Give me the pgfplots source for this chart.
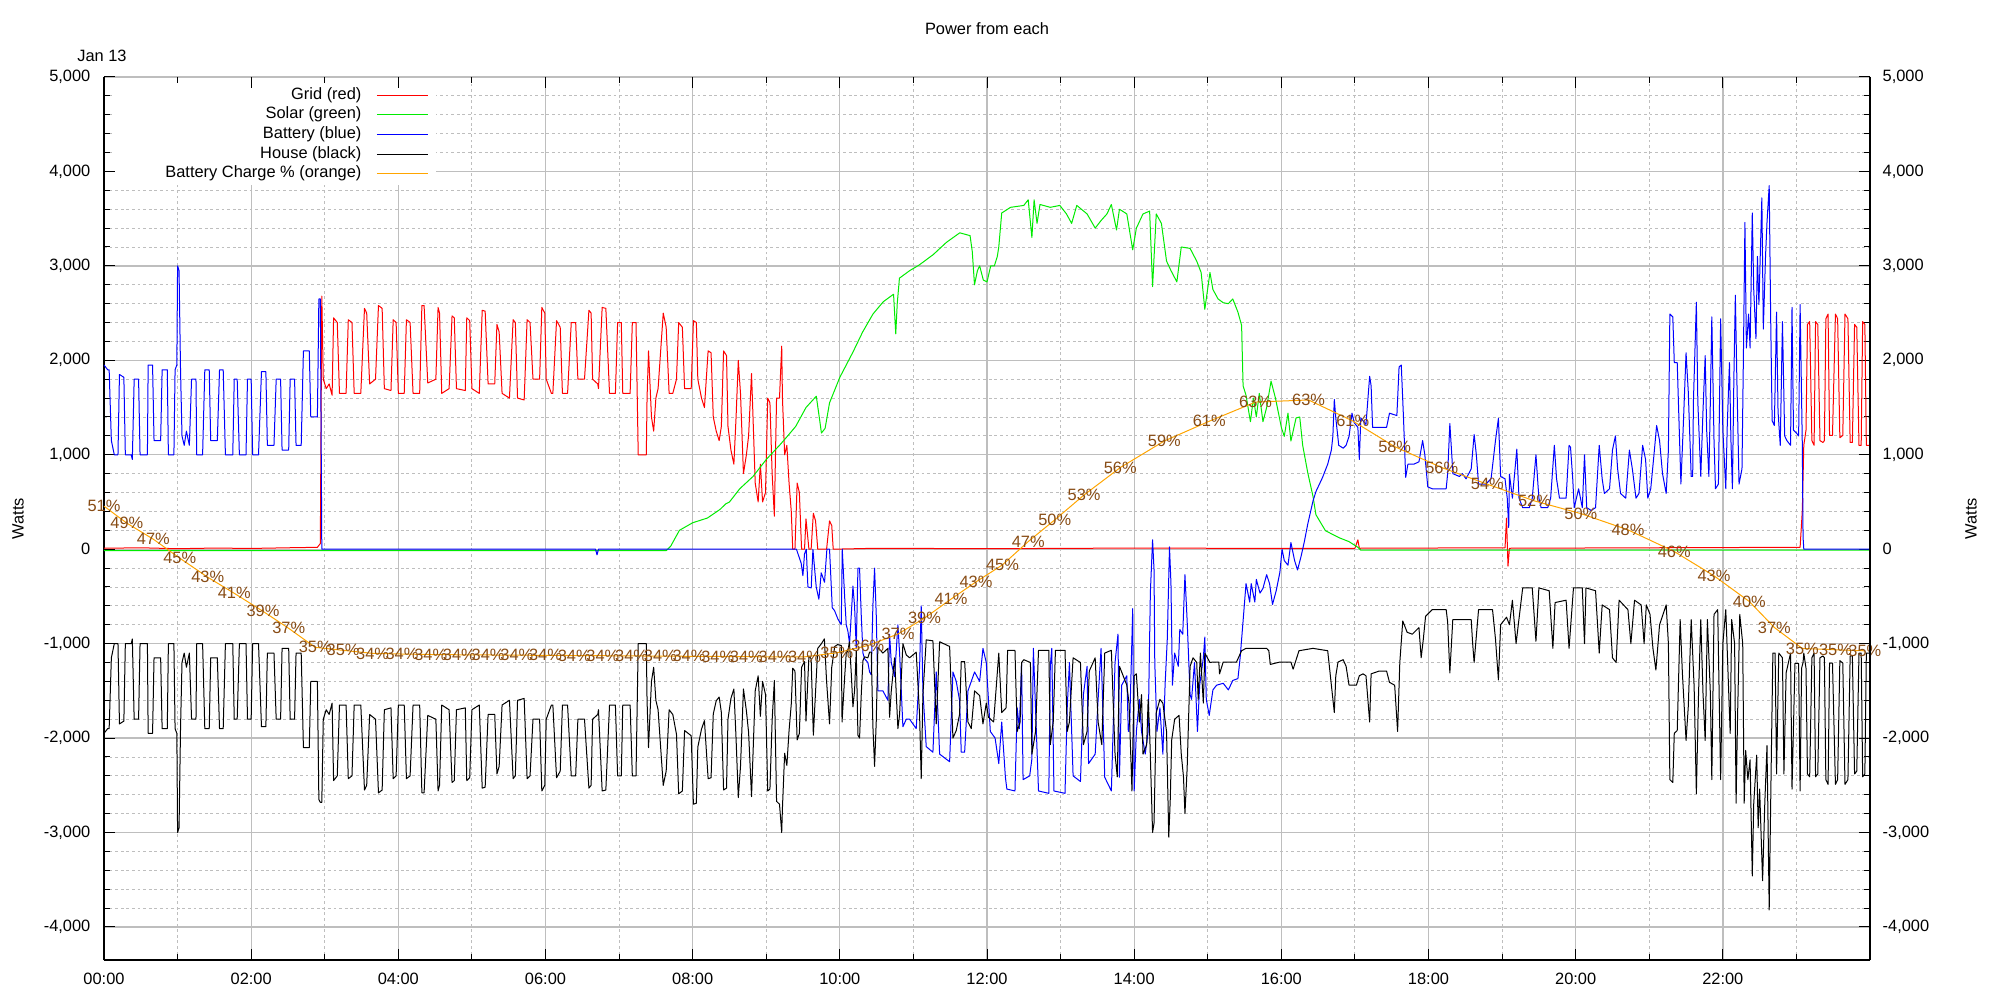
\documentclass[border=0pt]{standalone}
\usepackage{fontspec}
\setmainfont{Liberation Sans}
\usepackage{pgfplots}
\pgfplotsset{compat=1.18}
\definecolor{gridgray}{RGB}{190,190,190}
\definecolor{solargreen}{RGB}{0,235,0}
\definecolor{chargeorange}{RGB}{255,165,0}
\definecolor{labelbrown}{RGB}{135,75,20}
\newcommand\ff{\fontsize{8.2}{9.8}\selectfont}
\begin{document}
\begin{tikzpicture}
\begin{axis}[
  scale only axis, width=883pt, height=441.5pt,
  xmin=0, xmax=24, ymin=-4350, ymax=5000,
  axis x line*=bottom, axis y line*=box,
  tick align=inside,
  xtick={0,2,...,24},
  xticklabels={00:00,02:00,04:00,06:00,08:00,10:00,12:00,14:00,16:00,18:00,20:00,22:00,},
  minor x tick num=1,
  ytick={-4000,-3000,...,5000},
  yticklabels={{-4,000},{-3,000},{-2,000},{-1,000},0,{1,000},{2,000},{3,000},{4,000},{5,000}},
  minor y tick num=4,
  yticklabel pos=left,
  major tick length=5.5pt, minor tick length=3pt,
  tick style={black, line width=0.5pt},
  axis line style={black, line width=0.7pt},
  grid=both,
  major grid style={color=gridgray, line width=0.65pt},
  minor grid style={color=gridgray, line width=0.45pt, dash pattern=on 1.4pt off 1.4pt},
  tick label style={font=\ff},
  xticklabel style={yshift=-3pt},
  yticklabel style={xshift=-3.3pt},
  ylabel={Watts},
  ylabel style={font=\ff, at={(axis description cs:-0.0487,0.5)}, anchor=center, rotate=0},
  title={Power from each},
  title style={font=\ff, at={(axis description cs:0.5,1)}, anchor=center, yshift=18pt},
  legend cell align=right,
  legend plot pos=right,
  legend image code/.code={\draw[#1] (0pt,0pt) -- (25.5pt,0pt);},
  legend style={at={(rel axis cs:0,1)}, anchor=north west, xshift=5.5pt, yshift=-3.5pt,
    draw=none, fill=white, inner xsep=4pt, inner ysep=1pt, row sep=0.85pt, column sep=7pt,
    nodes={inner sep=0.5pt, text depth=0.2em}, font=\ff},
  every node near coord/.append style={anchor=center, inner sep=0pt, font=\ff, text=labelbrown},
]
% Grid (red)
\addplot[red, line width=0.5pt, line join=round] coordinates {
(0,10)(0.5,15)(1.0,5)(1.5,12)(2.0,8)(2.5,15)(2.9,20)(2.94,60)(2.96,2680)(2.98,1800)(3.02,1700)(3.06,1750)(3.1,1630)(3.12,2450)(3.17,2400)(3.2,1650)(3.29,1650)(3.32,2430)(3.37,2400)(3.4,1650)(3.49,1650)(3.54,2550)(3.57,2500)(3.61,1750)(3.69,1800)(3.73,2580)(3.78,2550)(3.81,1700)(3.9,1680)(3.93,2430)(3.97,2400)(4.0,1650)(4.08,1650)(4.11,2430)(4.16,2400)(4.2,1650)(4.29,1650)(4.32,2580)(4.35,2580)(4.4,1760)(4.51,1800)(4.54,2560)(4.56,2500)(4.59,1650)(4.69,1700)(4.73,2470)(4.76,2450)(4.79,1700)(4.91,1680)(4.93,2450)(4.97,2420)(5.0,1700)(5.1,1650)(5.14,2530)(5.18,2520)(5.22,1750)(5.31,1750)(5.34,2380)(5.37,2300)(5.41,1650)(5.51,1600)(5.56,2430)(5.59,2400)(5.62,1600)(5.71,1580)(5.75,2430)(5.79,2400)(5.83,1800)(5.92,1800)(5.95,2560)(5.99,2500)(6.01,1800)(6.08,1650)(6.1,1650)(6.15,2420)(6.2,2350)(6.23,1650)(6.3,1650)(6.35,2400)(6.41,2400)(6.44,1800)(6.53,1800)(6.59,2530)(6.62,2500)(6.64,1800)(6.71,1750)(6.72,1700)(6.77,2560)(6.82,2550)(6.87,1650)(6.95,1650)(6.98,2400)(7.03,2400)(7.05,1650)(7.15,1650)(7.18,2400)(7.23,2400)(7.26,1000)(7.37,1000)(7.38,1600)(7.4,2100)(7.44,1400)(7.47,1250)(7.5,1600)(7.53,1700)(7.6,2500)(7.64,2350)(7.68,1650)(7.73,1650)(7.78,1800)(7.81,2400)(7.86,2350)(7.89,1700)(7.98,1700)(8.01,2420)(8.05,2400)(8.07,1800)(8.12,1600)(8.16,1500)(8.21,2100)(8.25,2080)(8.28,1400)(8.32,1250)(8.36,1150)(8.39,1300)(8.42,2100)(8.46,2050)(8.48,1300)(8.52,1050)(8.56,900)(8.59,1400)(8.62,2000)(8.65,1650)(8.69,800)(8.73,1000)(8.76,1200)(8.8,1860)(8.82,1400)(8.85,700)(8.89,500)(8.92,900)(8.95,500)(8.99,600)(9.02,1600)(9.05,1550)(9.08,800)(9.11,350)(9.14,1600)(9.18,1600)(9.21,2150)(9.22,1600)(9.25,1000)(9.28,1100)(9.31,700)(9.34,400)(9.36,0)(9.39,0)(9.42,700)(9.45,600)(9.48,0)(9.52,0)(9.54,320)(9.58,0)(9.61,0)(9.64,380)(9.67,300)(9.7,0)(9.82,0)(9.86,300)(9.89,250)(9.91,0)(10.5,10)(12,5)(14,12)(16,8)(17.0,10)(17.04,100)(17.06,10)(19.04,15)(19.06,330)(19.08,-180)(19.1,10)(21,15)(23.05,20)(23.08,410)(23.1,1100)(23.13,1260)(23.15,2380)(23.18,2410)(23.21,1150)(23.24,1100)(23.26,2410)(23.29,2380)(23.32,1150)(23.36,1130)(23.38,1150)(23.4,2440)(23.43,2490)(23.45,1205)(23.49,1205)(23.53,2490)(23.56,2440)(23.59,1180)(23.63,1205)(23.66,2490)(23.7,2440)(23.73,1130)(23.76,1130)(23.79,2380)(23.82,2350)(23.85,1100)(23.88,1100)(23.9,2410)(23.93,2380)(23.95,1100)(24,1100)
};
\addlegendentry{\makebox[118.5pt][r]{Grid (red)}}
% Solar (green)
\addplot[solargreen, line width=0.5pt, line join=round] coordinates {
(0,-15)(7.64,-15)(7.7,30)(7.82,200)(8.0,280)(8.2,330)(8.37,420)(8.45,480)(8.5,500)(8.64,640)(8.82,770)(9.0,950)(9.18,1100)(9.27,1180)(9.4,1300)(9.54,1500)(9.68,1620)(9.72,1400)(9.75,1230)(9.8,1280)(9.86,1550)(10.0,1820)(10.18,2090)(10.31,2300)(10.45,2490)(10.59,2620)(10.73,2700)(10.76,2280)(10.78,2600)(10.81,2870)(10.95,2950)(11.08,3010)(11.27,3120)(11.45,3250)(11.63,3350)(11.77,3320)(11.8,3150)(11.83,2800)(11.87,2950)(11.9,3000)(11.95,2850)(12.0,2830)(12.05,3000)(12.1,3000)(12.14,3100)(12.16,3200)(12.2,3560)(12.32,3620)(12.5,3640)(12.56,3700)(12.61,3300)(12.64,3700)(12.68,3450)(12.72,3650)(12.86,3620)(12.99,3640)(13.08,3550)(13.15,3450)(13.22,3640)(13.36,3550)(13.47,3400)(13.55,3480)(13.63,3550)(13.69,3650)(13.76,3380)(13.8,3600)(13.9,3550)(13.98,3170)(14.03,3400)(14.12,3550)(14.21,3580)(14.25,2780)(14.3,3550)(14.37,3450)(14.44,3050)(14.5,2950)(14.58,2830)(14.64,3200)(14.76,3185)(14.85,3050)(14.91,2930)(14.96,2540)(15.03,2930)(15.07,2750)(15.14,2650)(15.21,2610)(15.28,2600)(15.34,2650)(15.41,2510)(15.46,2370)(15.48,1730)(15.52,1630)(15.58,1350)(15.62,1600)(15.66,1400)(15.7,1650)(15.75,1350)(15.8,1500)(15.86,1780)(15.92,1600)(16.0,1290)(16.04,1195)(16.09,1440)(16.13,1145)(16.2,1390)(16.25,1400)(16.29,1100)(16.36,805)(16.43,560)(16.47,365)(16.6,195)(16.79,120)(16.92,80)(17.04,20)(17.08,-10)(24,-10)
};
\addlegendentry{\makebox[118.5pt][r]{Solar (green)}}
% Battery (blue)
\addplot[blue, line width=0.5pt, line join=round] coordinates {
(0,1950)(0.05,1900)(0.07,1900)(0.1,1150)(0.14,1000)(0.19,1000)(0.21,1850)(0.27,1820)(0.29,1000)(0.37,1000)(0.385,950)(0.41,1800)(0.47,1800)(0.49,1000)(0.59,1000)(0.60,1950)(0.66,1950)(0.68,1150)(0.77,1150)(0.79,1900)(0.86,1900)(0.875,1000)(0.95,1000)(0.966,1900)(0.99,1950)(1.0,3000)(1.02,2950)(1.04,1900)(1.06,1200)(1.09,1100)(1.12,1250)(1.16,1100)(1.19,1800)(1.25,1800)(1.26,1000)(1.34,1000)(1.37,1900)(1.43,1900)(1.45,1150)(1.54,1150)(1.57,1900)(1.62,1900)(1.65,1000)(1.75,1000)(1.77,1800)(1.81,1800)(1.84,1000)(1.93,1000)(1.95,1800)(2.0,1800)(2.02,1000)(2.1,1000)(2.14,1880)(2.2,1880)(2.22,1100)(2.31,1100)(2.34,1800)(2.4,1800)(2.42,1050)(2.51,1050)(2.53,1800)(2.59,1800)(2.61,1100)(2.68,1100)(2.71,2100)(2.79,2100)(2.81,1400)(2.9,1400)(2.92,2650)(2.94,2650)(2.96,0)
(3.5,0)(6.68,0)(6.7,-60)(6.72,0)(9.41,0)
(9.475,-150)(9.498,-280)(9.52,-50)(9.544,0)(9.566,-400)(9.611,-410)(9.634,0)(9.679,-400)(9.715,-530)(9.747,-250)(9.792,-350)(9.824,0)(9.86,0)(9.897,-620)(9.928,-650)(9.974,-740)(10.019,-800)(10.033,0)(10.065,-500)(10.087,-800)(10.11,-870)(10.132,-1000)(10.155,-700)(10.178,-390)(10.2,-600)(10.223,-1050)(10.246,-200)(10.268,-200)(10.291,-700)(10.314,-1100)(10.336,-1160)(10.381,-1200)(10.404,-1300)(10.427,-1330)(10.449,-600)(10.472,-200)(10.495,-700)(10.517,-1500)(10.585,-1500)(10.653,-1600)(10.676,-900)(10.699,-1200)(10.744,-1350)(10.789,-800)(10.812,-1100)(10.857,-1880)(10.903,-1800)(10.948,-1800)(10.993,-1850)(11.038,-1900)(11.084,-1250)(11.106,-600)(11.129,-1500)(11.174,-2090)(11.265,-2150)(11.31,-1300)(11.356,-2170)(11.492,-2250)(11.537,-1300)(11.582,-1400)(11.627,-1600)(11.65,-2150)(11.696,-2150)(11.741,-1500)(11.786,-1400)(11.831,-1300)(11.9,-1400)(11.945,-1050)(11.99,-1200)
(12.045,-1930)(12.11,-2000)(12.16,-2270)(12.2,-1830)(12.25,-2415)(12.27,-2540)(12.38,-2560)(12.41,-1680)(12.44,-1900)(12.47,-1200)(12.49,-2440)(12.58,-2400)(12.61,-2220)(12.63,-1050)(12.7,-2560)(12.84,-2585)(12.86,-1240)(12.88,-1050)(12.91,-2560)(13.06,-2585)(13.09,-1680)(13.12,-1200)(13.17,-2400)(13.27,-2460)(13.31,-1540)(13.36,-1240)(13.38,-2270)(13.47,-2170)(13.51,-1590)(13.55,-1050)(13.6,-2415)(13.69,-2560)(13.74,-1200)(13.78,-900)(13.8,-2415)(13.83,-1440)(13.9,-1340)(13.92,-1930)(13.94,-1830)(13.98,-630)(14.0,-2560)(14.03,-1930)(14.07,-1590)(14.1,-1930)(14.15,-2170)(14.19,-1930)(14.22,-460)(14.25,100)(14.27,-220)(14.28,-1200)(14.31,-1930)(14.35,-1680)(14.39,-2170)(14.42,-1440)(14.45,-950)(14.48,25)(14.5,-365)(14.52,-1440)(14.55,-1100)(14.6,-1240)(14.62,-850)(14.66,-900)(14.69,-270)(14.72,-760)(14.76,-1540)(14.78,-1590)(14.82,-1200)(14.86,-1930)(14.89,-1440)(14.94,-1150)(14.96,-930)(14.98,-1590)(15.02,-1760)(15.07,-1490)(15.12,-1440)(15.21,-1420)(15.28,-1490)(15.34,-1390)(15.41,-1370)(15.44,-1150)(15.48,-760)(15.52,-365)(15.57,-560)(15.59,-365)(15.64,-560)(15.66,-320)(15.71,-465)(15.75,-415)(15.8,-270)(15.84,-365)(15.88,-585)(15.93,-440)(15.98,-245)(16.01,0)(16.04,-120)(16.09,-170)(16.13,70)(16.18,-120)(16.22,-220)(16.27,-70)(16.31,70)(16.36,270)(16.43,510)(16.47,610)(16.56,760)(16.63,900)(16.68,1050)(16.7,1195)(16.72,1585)(16.74,1390)(16.78,1100)(16.84,1070)(16.88,1100)(16.92,1195)(16.96,1440)(16.99,1340)(17.04,1290)(17.06,950)(17.08,1390)(17.15,1320)(17.2,1830)(17.22,1730)(17.24,1290)(17.33,1290)(17.43,1290)(17.47,1440)(17.57,1415)(17.6,1930)(17.63,1950)(17.66,1390)(17.69,760)(17.72,900)(17.8,900)(17.87,925)(17.92,1150)(17.95,1000)(17.99,660)
(18.05,640)(18.24,640)(18.26,800)(18.29,1330)(18.32,950)(18.33,800)(18.42,770)(18.46,800)(18.51,745)(18.58,850)(18.62,1215)(18.65,1000)(18.68,690)(18.78,690)(18.85,745)(18.91,1150)(18.95,1385)(18.98,770)(19.04,745)(19.07,540)(19.09,230)(19.1,795)(19.14,540)(19.2,1060)(19.23,540)(19.28,440)(19.37,440)(19.41,540)(19.46,1000)(19.5,540)(19.53,440)(19.62,440)(19.66,540)(19.71,1100)(19.74,745)(19.78,540)(19.87,540)(19.91,1100)(19.93,1080)(19.96,745)(19.98,440)(20.04,640)(20.09,440)(20.12,1000)(20.15,440)(20.21,410)(20.27,440)(20.32,1100)(20.36,745)(20.39,590)(20.46,640)(20.5,1050)(20.54,1200)(20.57,850)(20.61,590)(20.68,540)(20.73,1050)(20.77,850)(20.82,540)(20.86,590)(20.91,1100)(20.95,950)(20.98,540)(21.02,640)(21.07,1050)(21.1,1310)(21.14,1150)(21.18,800)(21.23,590)(21.26,1050)(21.28,2490)(21.32,2460)(21.34,1975)(21.38,1975)(21.43,690)(21.46,1260)(21.5,2080)(21.53,1670)(21.57,770)(21.59,770)(21.6,1560)(21.64,2615)(21.66,1560)(21.7,770)(21.73,1460)(21.76,2050)(21.78,1260)(21.81,770)(21.83,1560)(21.85,2460)(21.88,1150)(21.9,640)(21.94,690)(21.97,2440)(22.0,1260)(22.04,640)(22.06,1310)(22.09,1975)(22.11,1150)(22.13,640)(22.15,1820)(22.17,2690)(22.19,1820)(22.22,690)(22.26,850)(22.28,2080)(22.3,3460)(22.32,2130)(22.35,2490)(22.37,2130)(22.4,3560)(22.42,2740)(22.45,2230)(22.47,3100)(22.49,2590)(22.53,3720)(22.55,2330)(22.58,3100)(22.6,3460)(22.63,3850)(22.65,2440)(22.67,1360)(22.7,1310)(22.73,2510)(22.75,1460)(22.78,1100)(22.81,2410)(22.84,1200)(22.87,1150)(22.92,1100)(22.94,2560)(22.96,1260)(23.0,1230)(23.03,1200)(23.05,2590)(23.08,1100)(23.09,130)(23.1,0)(24,0)
};
\addlegendentry{\makebox[118.5pt][r]{Battery (blue)}}
% House (black)
\addplot[black, line width=0.5pt, line join=round] coordinates {
(0,-1950)(0.05,-1900)(0.07,-1900)(0.1,-1150)(0.14,-1000)(0.19,-1000)(0.21,-1850)(0.27,-1820)(0.29,-1000)(0.37,-1000)(0.385,-950)(0.41,-1800)(0.47,-1800)(0.49,-1000)(0.59,-1000)(0.60,-1950)(0.66,-1950)(0.68,-1150)(0.77,-1150)(0.79,-1900)(0.86,-1900)(0.875,-1000)(0.95,-1000)(0.966,-1900)(0.99,-1950)(1.0,-3000)(1.02,-2950)(1.04,-1900)(1.06,-1200)(1.09,-1100)(1.12,-1250)(1.16,-1100)(1.19,-1800)(1.25,-1800)(1.26,-1000)(1.34,-1000)(1.37,-1900)(1.43,-1900)(1.45,-1150)(1.54,-1150)(1.57,-1900)(1.62,-1900)(1.65,-1000)(1.75,-1000)(1.77,-1800)(1.81,-1800)(1.84,-1000)(1.93,-1000)(1.95,-1800)(2.0,-1800)(2.02,-1000)(2.1,-1000)(2.14,-1880)(2.2,-1880)(2.22,-1100)(2.31,-1100)(2.34,-1800)(2.4,-1800)(2.42,-1050)(2.51,-1050)(2.53,-1800)(2.59,-1800)(2.61,-1100)(2.68,-1100)(2.71,-2100)(2.79,-2100)(2.81,-1400)(2.9,-1400)(2.92,-2650)(2.94,-2680)
(2.96,-2680)(2.98,-1800)(3.02,-1700)(3.06,-1750)(3.1,-1630)(3.12,-2450)(3.17,-2400)(3.2,-1650)(3.29,-1650)(3.32,-2430)(3.37,-2400)(3.4,-1650)(3.49,-1650)(3.54,-2550)(3.57,-2500)(3.61,-1750)(3.69,-1800)(3.73,-2580)(3.78,-2550)(3.81,-1700)(3.9,-1680)(3.93,-2430)(3.97,-2400)(4.0,-1650)(4.08,-1650)(4.11,-2430)(4.16,-2400)(4.2,-1650)(4.29,-1650)(4.32,-2580)(4.35,-2580)(4.4,-1760)(4.51,-1800)(4.54,-2560)(4.56,-2500)(4.59,-1650)(4.69,-1700)(4.73,-2470)(4.76,-2450)(4.79,-1700)(4.91,-1680)(4.93,-2450)(4.97,-2420)(5.0,-1700)(5.1,-1650)(5.14,-2530)(5.18,-2520)(5.22,-1750)(5.31,-1750)(5.34,-2380)(5.37,-2300)(5.41,-1650)(5.51,-1600)(5.56,-2430)(5.59,-2400)(5.62,-1600)(5.71,-1580)(5.75,-2430)(5.79,-2400)(5.83,-1800)(5.92,-1800)(5.95,-2560)(5.99,-2500)(6.01,-1800)(6.08,-1650)(6.1,-1650)(6.15,-2420)(6.2,-2350)(6.23,-1650)(6.3,-1650)(6.35,-2400)(6.41,-2400)(6.44,-1800)(6.53,-1800)(6.59,-2530)(6.62,-2500)(6.64,-1800)(6.71,-1750)(6.72,-1700)(6.77,-2560)(6.82,-2550)(6.87,-1650)(6.95,-1650)(6.98,-2400)(7.03,-2400)(7.05,-1650)(7.15,-1650)(7.18,-2400)(7.23,-2400)(7.26,-1000)(7.37,-1000)(7.38,-1600)(7.4,-2100)(7.44,-1400)(7.47,-1250)(7.5,-1600)(7.53,-1700)(7.6,-2500)
(7.64,-2350)(7.68,-1700)(7.73,-1750)(7.78,-1960)(7.81,-2590)(7.86,-2560)(7.89,-1920)(7.98,-1975)(8.01,-2700)(8.05,-2690)(8.07,-2095)(8.12,-1905)(8.16,-1815)(8.21,-2430)(8.25,-2420)(8.28,-1745)(8.32,-1605)(8.36,-1565)(8.39,-1730)(8.42,-2550)(8.46,-2530)(8.48,-1800)(8.52,-1580)(8.56,-1480)(8.59,-2010)(8.62,-2630)(8.65,-2300)(8.69,-1480)(8.73,-1710)(8.76,-1940)(8.8,-2620)(8.82,-2170)(8.85,-1500)(8.89,-1340)(8.92,-1770)(8.95,-1400)(8.99,-1540)(9.02,-2560)(9.05,-2540)(9.08,-1810)(9.11,-1390)(9.14,-2670)(9.18,-2700)(9.21,-3000)(9.22,-2740)(9.25,-2160)(9.28,-2290)(9.31,-1920)(9.34,-1640)(9.36,-1260)(9.39,-1290)(9.42,-2020)(9.45,-1950)(9.48,-1250)(9.52,-1190)(9.54,-1820)(9.58,-1130)(9.61,-1160)(9.64,-1970)(9.67,-1510)(9.7,-1050)(9.75,-1000)(9.79,-950)(9.82,-1400)(9.86,-1850)(9.89,-1250)(9.93,-1030)(9.97,-1010)(10.02,-1020)(10.03,-1830)(10.065,-1360)(10.087,-1100)(10.11,-1080)(10.13,-980)(10.155,-1310)(10.178,-1670)(10.2,-1500)(10.223,-1080)(10.246,-1970)(10.268,-2000)(10.291,-1540)(10.314,-1180)(10.336,-1140)(10.381,-1150)(10.404,-1090)(10.427,-1090)(10.449,-1870)(10.472,-2300)(10.495,-1820)(10.517,-1040)(10.585,-1100)(10.653,-1050)(10.676,-1780)(10.699,-1500)(10.744,-1150)(10.789,-1900)(10.812,-1750)(10.857,-1000)(10.903,-1120)(10.948,-1150)(10.993,-1120)(11.038,-1090)(11.084,-1760)(11.106,-2430)(11.129,-1540)(11.174,-960)(11.265,-970)(11.31,-1850)(11.356,-980)(11.492,-1030)(11.537,-2000)(11.582,-1920)(11.627,-1750)(11.65,-1190)(11.696,-1190)(11.741,-1830)(11.786,-1900)(11.831,-1500)(11.9,-1550)(11.945,-1850)(11.99,-1630)
(12.02,-1780)(12.09,-1830)(12.16,-1100)(12.2,-1730)(12.26,-1680)(12.28,-1070)(12.38,-1070)(12.41,-1930)(12.45,-1830)(12.47,-1200)(12.5,-1170)(12.59,-1200)(12.61,-2170)(12.66,-1930)(12.7,-1070)(12.84,-1070)(12.86,-2070)(12.9,-1830)(12.93,-1070)(13.06,-1070)(13.09,-1930)(13.12,-1830)(13.17,-1150)(13.27,-1200)(13.31,-2070)(13.36,-1930)(13.39,-1290)(13.47,-1150)(13.51,-1830)(13.56,-2070)(13.6,-1100)(13.69,-1070)(13.74,-2170)(13.77,-2410)(13.8,-1240)(13.85,-1340)(13.9,-1440)(13.93,-1630)(13.97,-2560)(14.0,-1340)(14.03,-1320)(14.07,-1830)(14.1,-1540)(14.12,-2170)(14.17,-2070)(14.19,-1590)(14.21,-1930)(14.25,-3000)(14.27,-2900)(14.3,-1730)(14.35,-1590)(14.39,-1630)(14.44,-1930)(14.47,-3050)(14.49,-2660)(14.51,-2020)(14.55,-1800)(14.61,-1760)(14.64,-2170)(14.67,-2410)(14.69,-2800)(14.72,-2320)(14.76,-1240)(14.8,-1150)(14.85,-1200)(14.87,-1590)(14.9,-1100)(14.94,-1630)(14.96,-1100)(15.03,-1200)(15.07,-1195)(15.15,-1195)(15.16,-1320)(15.21,-1195)(15.39,-1195)(15.46,-1075)(15.52,-1050)(15.8,-1050)(15.83,-1075)(15.85,-1220)(15.98,-1195)(16.13,-1195)(16.16,-1270)(16.24,-1075)(16.43,-1050)(16.63,-1075)(16.68,-1440)(16.72,-1730)(16.74,-1340)(16.77,-1195)(16.84,-1170)(16.88,-1240)(16.92,-1440)(17.02,-1440)(17.06,-1340)(17.11,-1320)(17.15,-1340)(17.18,-1630)(17.2,-1830)(17.22,-1320)(17.33,-1290)(17.43,-1290)(17.47,-1410)(17.54,-1440)(17.58,-1930)(17.61,-1200)(17.65,-760)(17.71,-880)(17.78,-900)(17.87,-830)(17.9,-1150)(17.93,-950)(17.96,-710)
(18.05,-640)(18.24,-640)(18.26,-770)(18.29,-1310)(18.33,-745)(18.58,-745)(18.6,-1000)(18.62,-1200)(18.68,-640)(18.87,-640)(18.91,-950)(18.95,-1385)(18.98,-800)(19.06,-720)(19.1,-800)(19.14,-540)(19.19,-1000)(19.22,-800)(19.28,-410)(19.41,-410)(19.46,-975)(19.5,-410)(19.64,-440)(19.69,-1050)(19.72,-565)(19.87,-540)(19.91,-1050)(19.97,-410)(20.09,-410)(20.12,-1000)(20.14,-410)(20.27,-440)(20.32,-1100)(20.36,-590)(20.46,-640)(20.5,-1150)(20.55,-1200)(20.59,-540)(20.71,-640)(20.75,-1000)(20.8,-540)(20.89,-590)(20.93,-1000)(20.96,-590)(21.01,-690)(21.05,-1050)(21.09,-1280)(21.14,-800)(21.23,-590)(21.26,-1000)(21.28,-2440)(21.32,-2470)(21.34,-1950)(21.38,-1920)(21.42,-745)(21.45,-1310)(21.5,-2025)(21.53,-1670)(21.57,-745)(21.61,-1460)(21.64,-2590)(21.67,-1520)(21.7,-745)(21.73,-1520)(21.76,-2025)(21.79,-745)(21.83,-1520)(21.85,-2440)(21.88,-690)(21.93,-640)(21.97,-2440)(22.0,-1000)(22.04,-640)(22.08,-1520)(22.1,-1950)(22.12,-745)(22.16,-1000)(22.18,-2690)(22.2,-1770)(22.23,-690)(22.27,-1000)(22.29,-2690)(22.31,-2130)(22.34,-2440)(22.37,-2230)(22.4,-3460)(22.42,-2690)(22.46,-2180)(22.48,-2950)(22.5,-2540)(22.54,-3510)(22.57,-2690)(22.6,-2080)(22.63,-3820)(22.66,-2130)(22.68,-1100)(22.71,-1100)(22.73,-2380)(22.76,-1100)(22.81,-1150)(22.83,-2380)(22.86,-1310)(22.92,-1100)(22.94,-2540)(22.98,-1210)(23.03,-1210)(23.05,-2560)(23.07,-1260)(23.09,-1200)
(23.1,-1100)(23.13,-1260)(23.15,-2380)(23.18,-2410)(23.21,-1150)(23.24,-1100)(23.26,-2410)(23.29,-2380)(23.32,-1150)(23.36,-1130)(23.38,-1150)(23.4,-2440)(23.43,-2490)(23.45,-1205)(23.49,-1205)(23.53,-2490)(23.56,-2440)(23.59,-1180)(23.63,-1205)(23.66,-2490)(23.7,-2440)(23.73,-1130)(23.76,-1130)(23.79,-2380)(23.82,-2350)(23.85,-1100)(23.88,-1100)(23.9,-2410)(23.93,-2380)(23.95,-1100)(24,-1100)
};
\addlegendentry{\makebox[118.5pt][r]{House (black)}}
% Battery charge (orange) with labels
\addplot[chargeorange, line width=0.5pt, line join=round, nodes near coords, point meta=explicit symbolic] coordinates {
(0,456)[51\%](0.31,276)[49\%](0.67,106)[47\%](1.03,-95)[45\%](1.41,-297)[43\%](1.77,-467)[41\%](2.16,-657)[39\%](2.51,-838)[37\%](2.87,-1039)[35\%](3.25,-1071)[35\%](3.65,-1103)[34\%](4.05,-1110)[34\%](4.44,-1115)[34\%](4.83,-1118)[34\%](5.22,-1120)[34\%](5.61,-1122)[34\%](6.00,-1124)[34\%](6.39,-1126)[34\%](6.78,-1128)[34\%](7.17,-1130)[34\%](7.56,-1132)[34\%](7.95,-1134)[34\%](8.34,-1136)[34\%](8.73,-1138)[34\%](9.12,-1140)[34\%](9.52,-1140)[34\%](9.96,-1097)[35\%](10.38,-1020)[36\%](10.79,-898)[37\%](11.15,-730)[39\%](11.51,-529)[41\%](11.85,-346)[43\%](12.21,-166)[45\%](12.56,81)[47\%](12.92,310)[50\%](13.32,575)[53\%](13.81,864)[56\%](14.41,1146)[59\%](15.02,1355)[61\%](15.65,1558)[63\%](16.37,1580)[63\%](16.97,1358)[61\%](17.54,1086)[58\%](18.18,864)[56\%](18.8,688)[54\%](19.44,511)[52\%](20.07,377)[50\%](20.71,205)[48\%](21.34,-25)[46\%](21.88,-282)[43\%](22.36,-554)[40\%](22.7,-829)[37\%](23.08,-1051)[35\%](23.53,-1065)[35\%](23.93,-1076)[35\%]
};
\addlegendentry{\makebox[118.5pt][r]{Battery Charge \% (orange)}}
\coordinate (SW) at (rel axis cs:0,0);
\coordinate (NE) at (rel axis cs:1,1);
\coordinate (NW) at (rel axis cs:0,1);
\end{axis}
\begin{axis}[
  scale only axis, width=883pt, height=441.5pt,
  xmin=0, xmax=24, ymin=-4350, ymax=5000,
  axis x line*=top, axis y line*=right,
  tick align=inside,
  xtick={0,2,...,24}, minor x tick num=1, xticklabels={},
  x axis line style={draw=none},
  major tick length=5.5pt, minor tick length=3pt,
  xtick style={black, line width=0.5pt},
  ytick style={draw=none},
  ytick={-4000,-3000,...,5000},
  yticklabels={{-4,000},{-3,000},{-2,000},{-1,000},0,{1,000},{2,000},{3,000},{4,000},{5,000}},
  y axis line style={black, line width=0.7pt},
  tick label style={font=\ff},
  yticklabel style={xshift=2.8pt},
  ylabel={Watts},
  ylabel style={font=\ff, at={(axis description cs:1.0572,0.5)}, anchor=center, rotate=0},
]
\addplot[draw=none] coordinates {(0,0)};
\end{axis}
\node[font=\ff, anchor=center] at ([shift={(-1pt,10.5pt)}]NW) {Jan 13};
\path ([shift={(-52pt,-20pt)}]SW) rectangle ([shift={(65pt,38.5pt)}]NE);
\end{tikzpicture}
\end{document}
